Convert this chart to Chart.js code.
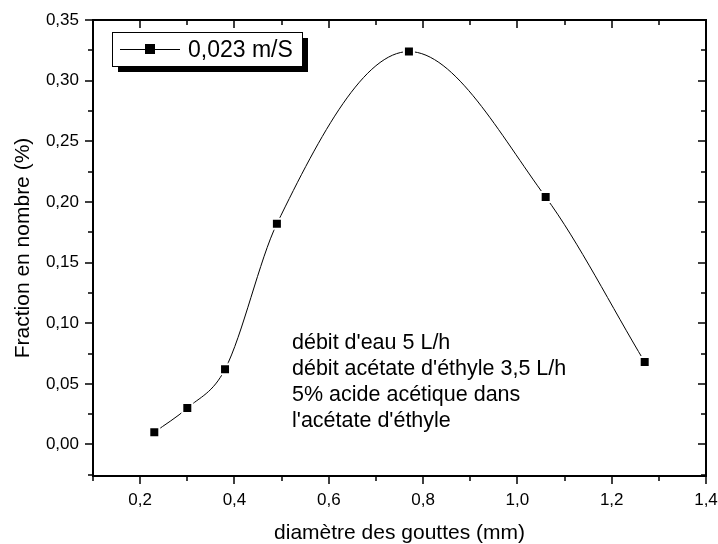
<!DOCTYPE html>
<html>
<head>
<meta charset="utf-8">
<script src="https://cdn.jsdelivr.net/npm/chart.js@4"></script>
<style>
  html, body { margin: 0; padding: 0; background: #fff; }
  canvas { display: block; }
</style>
</head>
<body>
<canvas id="dropChart" width="718" height="544"></canvas>
<script>
// diamètre des gouttes (mm) / fraction en nombre
const diameters = [0.23, 0.30, 0.38, 0.49, 0.77, 1.06, 1.27];
const fractions = [0.010, 0.030, 0.062, 0.182, 0.324, 0.204, 0.068];

const xTicks = [0.2, 0.4, 0.6, 0.8, 1.0, 1.2, 1.4];
const xMinor = [0.1, 0.3, 0.5, 0.7, 0.9, 1.1, 1.3];
const yTicks = [0.00, 0.05, 0.10, 0.15, 0.20, 0.25, 0.30, 0.35];
const yMinor = [-0.025, 0.025, 0.075, 0.125, 0.175, 0.225, 0.275, 0.325];

const seriesLabel = '0,023 m/S';
const noteLines = [
  "débit d'eau 5 L/h",
  "débit acétate d'éthyle 3,5 L/h",
  "5% acide acétique dans",
  "l'acétate d'éthyle"
];

const FONT = "'Liberation Sans', Arial, sans-serif";

// frame, tick marks (major/minor, in & out), legend and note
const decorations = {
  id: 'decorations',
  afterDraw(chart) {
    const ctx = chart.ctx;
    const a = chart.chartArea;
    const xs = chart.scales.x, ys = chart.scales.y;
    ctx.save();
    ctx.strokeStyle = '#000';
    ctx.lineWidth = 2;
    ctx.strokeRect(a.left, a.top, a.right - a.left, a.bottom - a.top);

    ctx.lineWidth = 1.5;
    ctx.beginPath();
    const xt = (v, len) => {
      const px = Math.round(xs.getPixelForValue(v));
      ctx.moveTo(px, a.bottom); ctx.lineTo(px, a.bottom + len);
      ctx.moveTo(px, a.top); ctx.lineTo(px, a.top + len);
    };
    const yt = (v, len) => {
      const py = Math.round(ys.getPixelForValue(v));
      ctx.moveTo(a.left, py); ctx.lineTo(a.left - len, py);
      ctx.moveTo(a.right, py); ctx.lineTo(a.right - len, py);
    };
    xTicks.forEach(v => xt(v, 8));
    xMinor.forEach(v => xt(v, 5));
    yTicks.forEach(v => yt(v, 8));
    yMinor.forEach(v => yt(v, 5));
    ctx.stroke();

    // legend box with shadow
    const bx = 112, by = 32, bw = 190, bh = 34;
    ctx.fillStyle = '#000';
    ctx.fillRect(bx + 6, by + 6, bw, bh);
    ctx.fillStyle = '#fff';
    ctx.fillRect(bx, by, bw, bh);
    ctx.lineWidth = 1;
    ctx.strokeRect(bx + 0.5, by + 0.5, bw, bh);
    ctx.beginPath();
    ctx.moveTo(120, 49.5); ctx.lineTo(180, 49.5);
    ctx.stroke();
    ctx.fillStyle = '#000';
    ctx.fillRect(145, 44, 10, 10);
    ctx.font = '23px ' + FONT;
    ctx.textBaseline = 'alphabetic';
    ctx.fillText(seriesLabel, 188, 57);

    // note
    ctx.font = '21.5px ' + FONT;
    noteLines.forEach((t, i) => ctx.fillText(t, 292, 349 + i * 26));
    ctx.restore();
  }
};

new Chart(document.getElementById('dropChart'), {
  type: 'line',
  data: {
    datasets: [{
      label: seriesLabel,
      data: diameters.map((d, i) => ({ x: d, y: fractions[i] })),
      borderColor: '#000',
      borderWidth: 1,
      cubicInterpolationMode: 'monotone',
      pointStyle: 'rect',
      pointRadius: 7.07,
      pointBackgroundColor: '#000',
      pointBorderColor: '#fff',
      pointBorderWidth: 2,
      fill: false
    }]
  },
  options: {
    responsive: false,
    animation: false,
    events: [],
    layout: { padding: { top: 20, right: 12, left: 0, bottom: 0 } },
    plugins: {
      legend: { display: false },
      tooltip: { enabled: false }
    },
    scales: {
      x: {
        type: 'linear',
        min: 0.1,
        max: 1.4,
        afterBuildTicks: s => { s.ticks = xTicks.map(v => ({ value: v })); },
        afterFit: s => { s.height = 68; s.paddingLeft = 0; s.paddingRight = 0; },
        grid: { display: false, drawTicks: false },
        border: { display: false },
        ticks: {
          autoSkip: false,
          maxRotation: 0,
          padding: 14,
          color: '#000',
          font: { family: FONT, size: 17 },
          callback: v => v.toFixed(1).replace('.', ',')
        },
        title: {
          display: true,
          text: 'diamètre des gouttes (mm)',
          color: '#000',
          font: { family: FONT, size: 21, lineHeight: 1.0 },
          padding: { top: 0, bottom: 0 }
        }
      },
      y: {
        type: 'linear',
        min: -0.026,
        max: 0.35,
        afterBuildTicks: s => { s.ticks = yTicks.map(v => ({ value: v })); },
        afterFit: s => { s.width = 93; s.paddingTop = 0; s.paddingBottom = 0; },
        grid: { display: false, drawTicks: false },
        border: { display: false },
        ticks: {
          autoSkip: false,
          padding: 14,
          color: '#000',
          font: { family: FONT, size: 17 },
          callback: v => v.toFixed(2).replace('.', ',')
        },
        title: {
          display: true,
          text: 'Fraction en nombre (%)',
          color: '#000',
          font: { family: FONT, size: 21 },
          padding: { top: 11, bottom: 0 }
        }
      }
    }
  },
  plugins: [decorations]
});
</script>
</body>
</html>
